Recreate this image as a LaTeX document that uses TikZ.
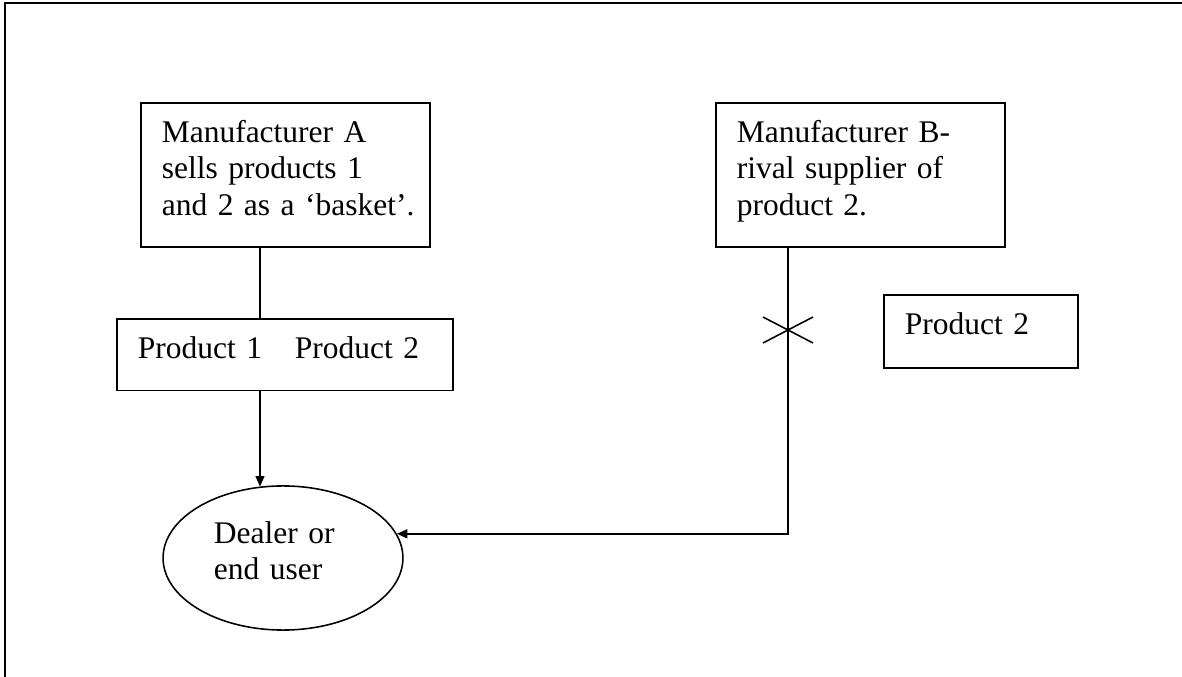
\documentclass[tikz,border=0pt]{standalone}
\usepackage{fontspec}
\setmainfont{Liberation Serif}
\usetikzlibrary{arrows.meta,shapes.geometric}

\begin{document}
\begin{tikzpicture}[
            x=0.381pt, y=-0.381pt,
            font=\fontsize{12}{13.8}\selectfont,
            box/.style={draw, rectangle, line width=0.6pt, anchor=north west,
              inner sep=0pt, align=left, text height=15.2pt,
              execute at begin node={\leftskip=8pt}},
            user/.style={draw, ellipse, line width=0.6pt, inner sep=0pt,
              minimum width=91.4pt, minimum height=54.9pt, align=left},
            link/.style={line width=0.6pt},
            >={Triangle[length=4pt,width=3.4pt]}
        ]
            \useasboundingbox (0,0) rectangle (1182,677);
            % Frame
            \draw[line width=0.8pt] (5,677) -- (5,3) -- (1182,3);

            % Boxes
            \node[box, text width=110.1pt, text depth=39.7pt] (mfa) at (140,102)
              {Manufacturer A\\sells products 1\\and 2 as a ‘basket’.};
            \node[box, text width=110.1pt, text depth=39.7pt] (mfb) at (715,102)
              {Manufacturer B-\\rival supplier of\\product 2.};
            \node[box, text width=128pt, text depth=12.2pt] (bsk) at (116,318)
              {Product 1\hspace{12.5pt}Product 2};
            \node[box, text width=73.9pt, text depth=12.6pt] (prd2) at (883,294)
              {Product 2};
            \node[user, text width=52.6pt, text height=8pt, text depth=19.4pt] (dlr) at (283,558)
              {Dealer or\\end user};

            % Helper points
            \coordinate (stem) at (260,0);
            \coordinate (tie) at (788,0);
            \coordinate (cut) at (788,330);

            % Edges
            \draw[link] (mfa.south -| stem) -- (bsk.north -| stem);
            \draw[link, ->] (bsk.south -| stem) -- (stem |- dlr.108);
            \draw[link, ->] (mfb.south -| tie) |- (dlr.12.5);

            % Blocked supply
            \draw[link] (cut) ++(-25,-13) -- ++(50,26);
            \draw[link] (cut) ++(-25,13) -- ++(50,-26);
        \end{tikzpicture}
\end{document}
